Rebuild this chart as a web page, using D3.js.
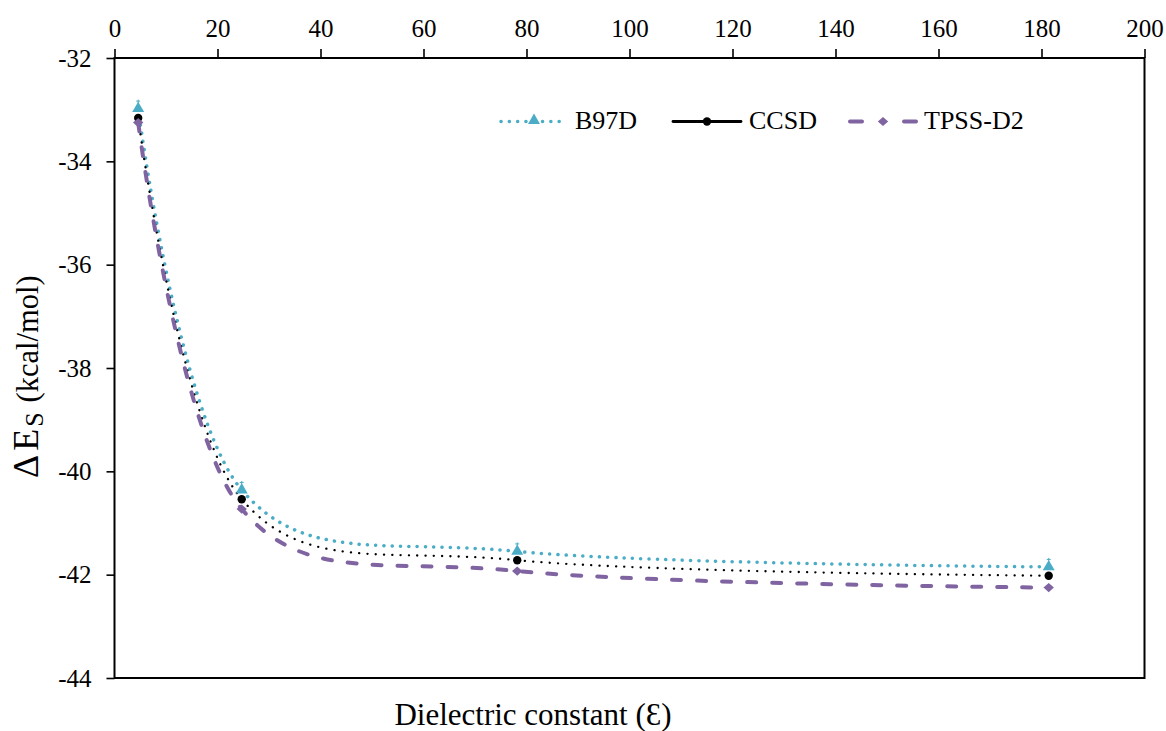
<!DOCTYPE html>
<html>
<head>
<meta charset="utf-8">
<script src="https://cdn.jsdelivr.net/npm/d3@7"></script>
<style>
  html, body { margin: 0; padding: 0; background: #fff; }
  svg { display: block; }
  svg text { font-family: "Liberation Serif", "Times New Roman", "DejaVu Serif", serif; fill: #000; }
</style>
</head>
<body>
<svg id="chart" width="1166" height="731"></svg>
<script>
// Dielectric constants of the solvents
const epsilon = [4.6, 24.7, 78.2, 181.4];
// Solvation energies (kcal/mol) for each method
const b97d = [-32.98, -40.36, -41.55, -41.85];
const ccsd = [-33.16, -40.54, -41.72, -42.02];
const tpss = [-33.25, -40.73, -41.93, -42.25];
const xTicks = [0, 20, 40, 60, 80, 100, 120, 140, 160, 180, 200];
const yTicks = [-32, -34, -36, -38, -40, -42, -44];

const svg = d3.select("#chart");
const plotLeft = 114.5, plotRight = 1144.5, plotTop = 58, plotBottom = 678;

const x = d3.scaleLinear().domain([0, 200]).range([plotLeft, plotRight]);
const y = d3.scaleLinear().domain([-32, -44]).range([plotTop, plotBottom]);

// Frame
svg.append("rect")
  .attr("x", plotLeft).attr("y", plotTop)
  .attr("width", plotRight - plotLeft).attr("height", plotBottom - plotTop)
  .attr("fill", "none").attr("stroke", "#000").attr("stroke-width", 2);

// Top axis
const xAxis = d3.axisTop(x).tickValues(xTicks).tickSize(9).tickPadding(12)
  .tickFormat(d => String(d));
const gx = svg.append("g").attr("transform", `translate(0,${plotTop})`).call(xAxis);
gx.attr("font-family", null).attr("font-size", null);
gx.select(".domain").remove();
gx.selectAll("line").attr("stroke", "#000").attr("stroke-width", 1.6);
gx.selectAll("text").style("font-size", "25px");

// Left axis (hyphen-minus labels)
const yAxis = d3.axisLeft(y).tickValues(yTicks).tickSize(8).tickPadding(15)
  .tickFormat(d => String(d));
const gy = svg.append("g").attr("transform", `translate(${plotLeft},0)`).call(yAxis);
gy.attr("font-family", null).attr("font-size", null);
gy.select(".domain").remove();
gy.selectAll("line").attr("stroke", "#000").attr("stroke-width", 1.6);
gy.selectAll("text").style("font-size", "25px");

const series = [
  { name: "B97D", values: b97d, color: "#4bacc6", width: 3.5, dash: "0.1 8.2", marker: "triangle" },
  { name: "CCSD", values: ccsd, color: "#000000", width: 2.3, dash: "0.1 8.2", marker: "circle" },
  { name: "TPSS-D2", values: tpss, color: "#8064a2", width: 4, dash: "9 16", marker: "diamond" }
];

const line = d3.line()
  .x((d, i) => x(epsilon[i]))
  .y(d => y(d))
  .curve(d3.curveCardinal.tension(0));

const diamondPath = "M0,-4.6L5.2,0L0,4.6L-5.2,0Z";

function drawMarker(g, type, cx, cy, color, withCap) {
  if (type === "triangle") {
    g.append("path")
      .attr("d", d3.symbol().type(d3.symbolTriangle).size(62)())
      .attr("transform", `translate(${cx},${cy})`)
      .attr("fill", color);
    if (withCap) {
      g.append("line")
        .attr("x1", cx).attr("x2", cx)
        .attr("y1", cy - 9).attr("y2", cy - 4)
        .attr("stroke", color).attr("stroke-width", 1);
      g.append("line")
        .attr("x1", cx - 2).attr("x2", cx + 2)
        .attr("y1", cy - 7.5).attr("y2", cy - 7.5)
        .attr("stroke", color).attr("stroke-width", 1);
    }
  } else if (type === "circle") {
    g.append("circle").attr("cx", cx).attr("cy", cy).attr("r", 4.2).attr("fill", color);
  } else {
    g.append("path")
      .attr("d", diamondPath)
      .attr("transform", `translate(${cx},${cy})`)
      .attr("fill", color);
  }
}

const plot = svg.append("g");
series.forEach(s => {
  plot.append("path")
    .datum(s.values)
    .attr("d", line)
    .attr("fill", "none")
    .attr("stroke", s.color)
    .attr("stroke-width", s.width)
    .attr("stroke-dasharray", s.dash)
    .attr("stroke-linecap", "round");
});
series.forEach(s => {
  s.values.forEach((v, i) => drawMarker(plot, s.marker, x(epsilon[i]), y(v), s.color, true));
});

// Legend
const legendItems = [
  { s: series[0], x0: 501, len: 66, dash: "0.1 8.2", width: 3.5 },
  { s: series[1], x0: 673, len: 68, dash: null, width: 2.8 },
  { s: series[2], x0: 850, len: 66, dash: "12 42 12", width: 4 }
];
const ly = 121.5;
legendItems.forEach(item => {
  const g = svg.append("g");
  g.append("line")
    .attr("x1", item.x0).attr("x2", item.x0 + item.len)
    .attr("y1", ly).attr("y2", ly)
    .attr("stroke", item.s.color)
    .attr("stroke-width", item.width)
    .attr("stroke-linecap", "round")
    .attr("stroke-dasharray", item.dash);
  const mx = item.x0 + item.len / 2;
  drawMarker(g, item.s.marker, mx, item.s.marker === "triangle" ? ly - 1 : ly, item.s.color, false);
  g.append("text")
    .attr("x", item.x0 + item.len + 8).attr("y", 128.5)
    .style("font-size", "26px")
    .text(item.s.name);
});

// Axis titles
svg.append("text")
  .attr("x", 533).attr("y", 725)
  .attr("text-anchor", "middle")
  .style("font-size", "31px")
  .text("Dielectric constant (\u0190)");

const yt = svg.append("text")
  .attr("transform", "translate(38,478) rotate(-90)")
  .attr("text-anchor", "start");
yt.append("tspan").style("font-size", "36px").text("\u0394");
yt.append("tspan").style("font-size", "36px").attr("dx", 4).text("E");
yt.append("tspan").style("font-size", "26px").attr("dx", 2).attr("dy", 5).text("S");
yt.append("tspan").style("font-size", "30.5px").attr("dx", 10).attr("dy", -5).text("(kcal/mol)");
</script>
</body>
</html>
